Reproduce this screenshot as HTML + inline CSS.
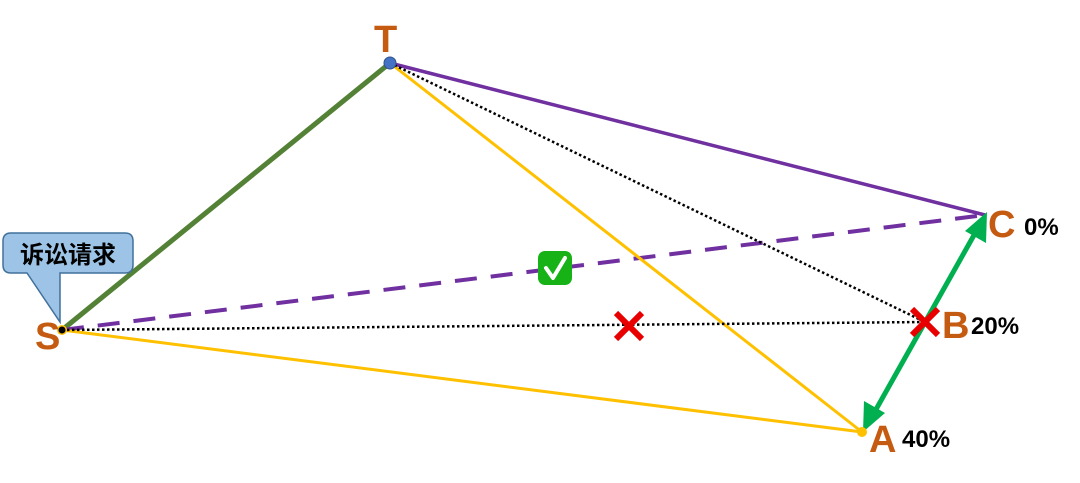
<!DOCTYPE html>
<html><head><meta charset="utf-8"><style>
html,body{margin:0;padding:0;background:#fff;}
svg{display:block;}
text{font-family:"Liberation Sans","Noto Sans CJK SC",sans-serif;font-weight:bold;}
</style></head><body>
<svg width="1080" height="483" viewBox="0 0 1080 483" xmlns="http://www.w3.org/2000/svg">
<line x1="62" y1="330" x2="390" y2="63" stroke="#538135" stroke-width="5"/>
<line x1="390" y1="63" x2="985" y2="215" stroke="#7030a0" stroke-width="3.5"/>
<line x1="62" y1="330" x2="985" y2="215" stroke="#7030a0" stroke-width="4" stroke-dasharray="22,14"/>
<line x1="390" y1="63" x2="862" y2="432" stroke="#ffc000" stroke-width="3"/>
<line x1="62" y1="330" x2="862" y2="432" stroke="#ffc000" stroke-width="3"/>
<line x1="390" y1="63" x2="925" y2="322" stroke="#000" stroke-width="2.5" stroke-dasharray="2.5,2.5"/>
<line x1="62" y1="330" x2="925" y2="322" stroke="#000" stroke-width="2.5" stroke-dasharray="2.5,2.5"/>
<line x1="874" y1="413" x2="978" y2="228" stroke="#00b050" stroke-width="5"/>
<polygon points="987,212 986,243 965,231" fill="#00b050"/>
<polygon points="863,432 864,401 885,413" fill="#00b050"/>
<circle cx="390" cy="63" r="6" fill="#4472c4" stroke="#2f528f" stroke-width="1"/>
<circle cx="862" cy="432" r="5" fill="#ffc000"/>
<circle cx="62" cy="330" r="5" fill="#ffc000"/>
<circle cx="62" cy="330" r="3.5" fill="#000"/>
<path d="M11,233 H125 Q133,233 133,241 V265 Q133,273 125,273 H60 L60,322 L27,273 H11 Q3,273 3,265 V241 Q3,233 11,233 Z" fill="#9dc3e6" stroke="#41719c" stroke-width="1.5"/>
<text x="68" y="263" font-size="24" text-anchor="middle" fill="#000">诉讼请求</text>
<text x="35" y="349" font-size="38" fill="#c55a11">S</text>
<text x="374" y="52" font-size="38" fill="#c55a11">T</text>
<text x="988" y="237" font-size="38" fill="#c55a11">C</text>
<text x="1024" y="235" font-size="24" fill="#000">0%</text>
<text x="942" y="338" font-size="38" fill="#c55a11">B</text>
<text x="971" y="334" font-size="24" fill="#000">20%</text>
<text x="869" y="452" font-size="38" fill="#c55a11">A</text>
<text x="902" y="447" font-size="24" fill="#000">40%</text>
<rect x="538" y="251" width="34" height="34" rx="7" fill="#16b216"/>
<path d="M546,268 L553,278 L565,258" stroke="#fff" stroke-width="4" fill="none" stroke-linecap="round" stroke-linejoin="round"/>
<g stroke="#e80000" stroke-width="6">
<line x1="616" y1="313" x2="642" y2="339"/><line x1="642" y1="313" x2="616" y2="339"/>
<line x1="912" y1="309" x2="938" y2="335"/><line x1="938" y1="309" x2="912" y2="335"/>
</g>
</svg>
</body></html>
